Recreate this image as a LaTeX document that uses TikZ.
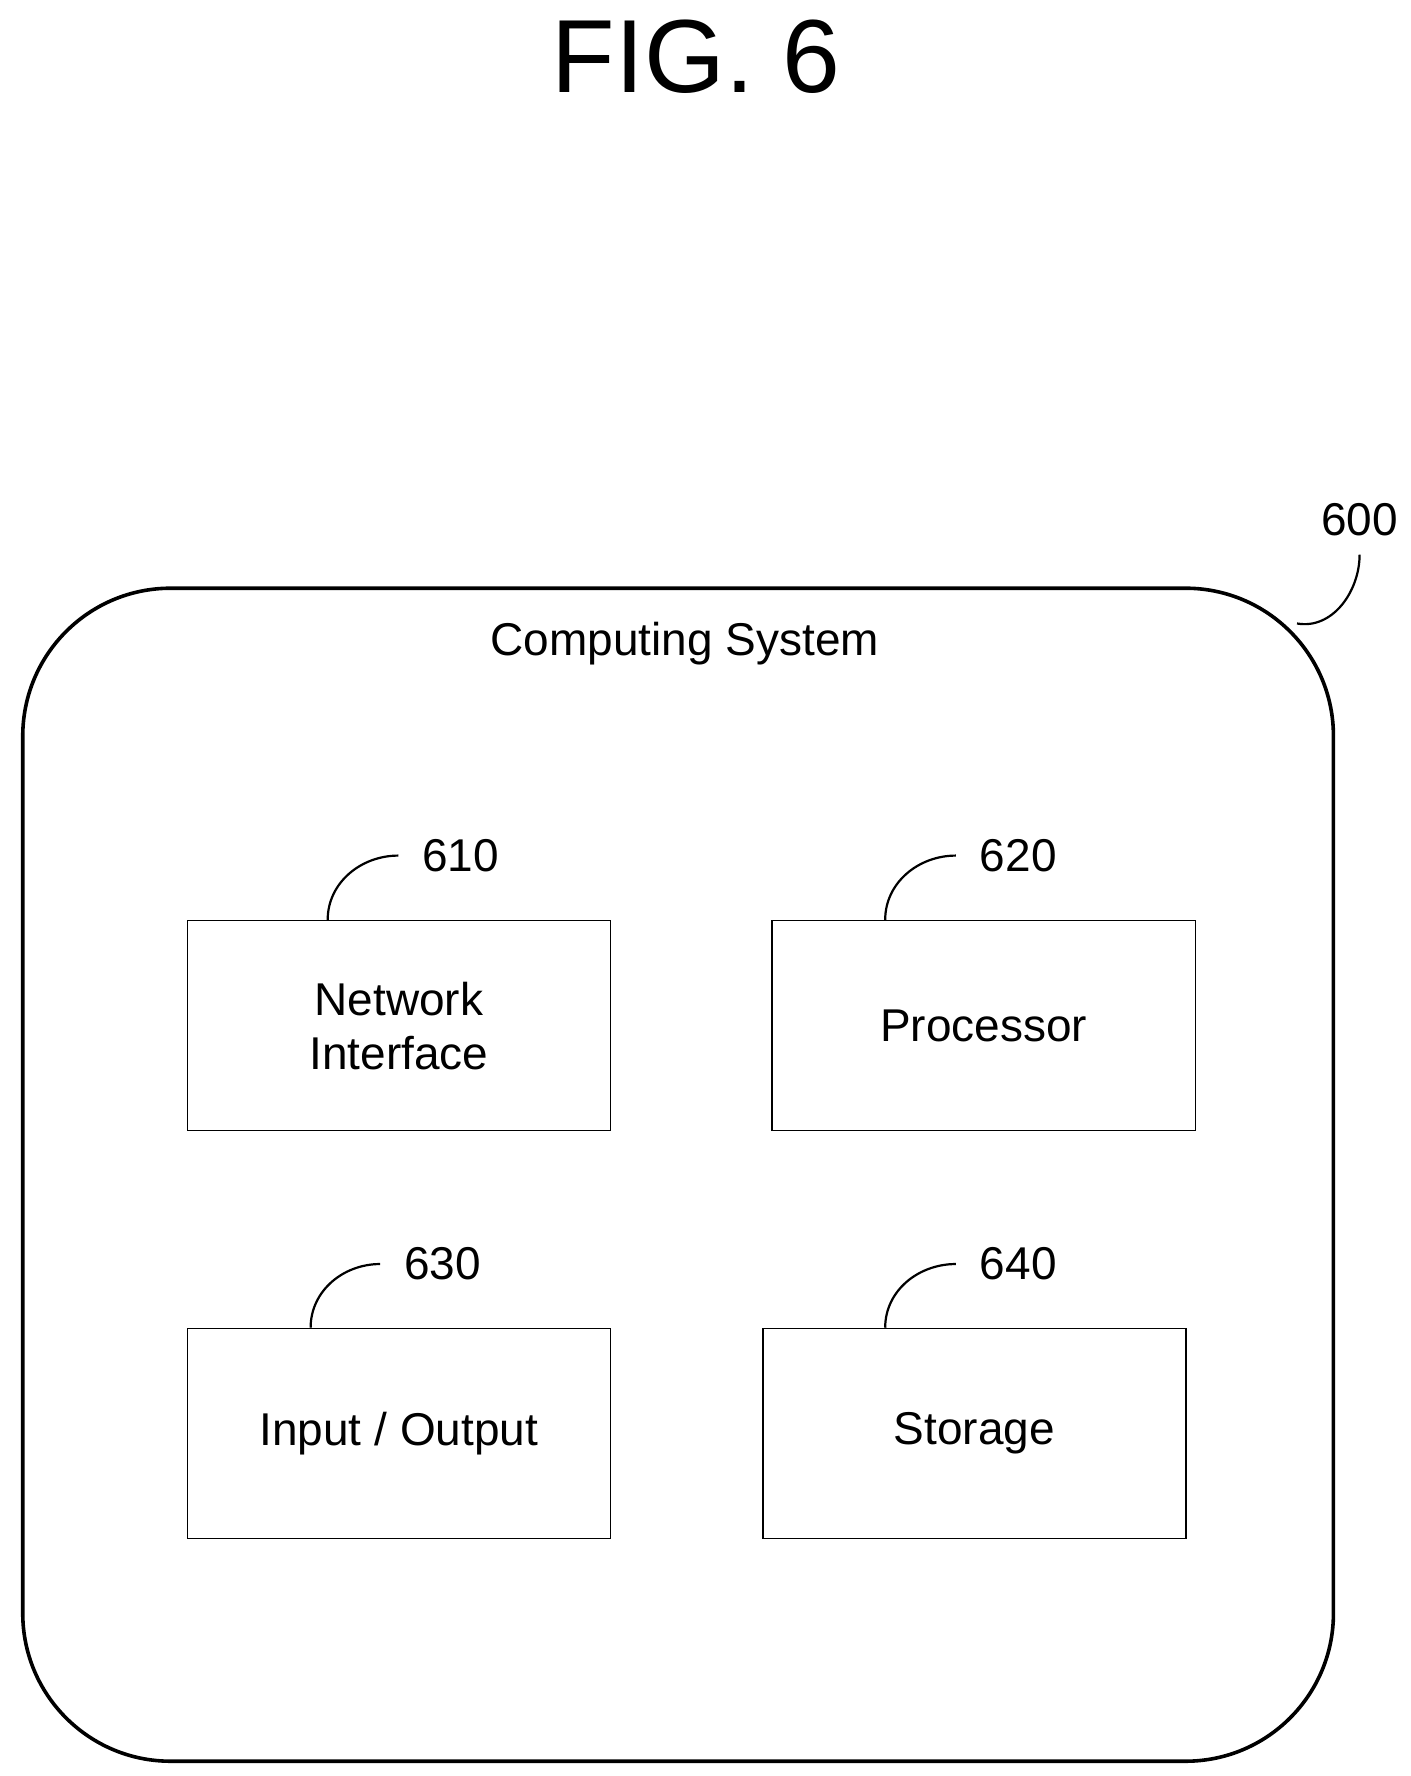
\documentclass[tikz,border=0pt]{standalone}
\usepackage{fontspec}
\setmainfont{Liberation Sans}
\usetikzlibrary{positioning}

\begin{document}
\begin{tikzpicture}[x=0.02cm, y=-0.02cm,
            part/.style={draw, rectangle, minimum width=7.44cm, minimum height=3.7cm, align=center, font=\fontsize{23}{27}\selectfont, line width=0.6pt},
            tag/.style={font=\fontsize{23}{27}\selectfont},
            lead/.style={line width=1.1pt}
        ]
    \useasboundingbox (0,0) rectangle (1240,1561);

    \node[font=\fontsize{52}{60}\selectfont] (fig) at (612,50) {FIG. 6};

    % computing system
    \draw[line width=1.8pt, rounded corners=2.6cm] (20,517) rectangle (1172,1548);
    \node[tag] (title) at (602,566) {Computing System};
    \coordinate (sysc) at (1140,548);
    \node[tag] (t600) at (1195,457) {600};
    \draw[lead] (sysc) to[out=-10,in=-90] ([yshift=-0.2cm]t600.south);

    \node[part] (net) at (350.5,901.5) {Network\\Interface};
    \node[part] (cpu) at (864.5,901.5) {Processor};
    \node[part] (io) at (350.5,1260) {Input / Output};
    \node[part] (sto) at (856.5,1260) {Storage};

    \node[tag] (t610) at (405,752) {610};
    \node[tag] (t620) at (895,752) {620};
    \node[tag] (t630) at (389,1111) {630};
    \node[tag] (t640) at (895,1111) {640};

    \draw[lead] ([xshift=-1.25cm]net.north) to[out=90,in=180] ([xshift=-0.3cm]t610.west);
    \draw[lead] ([xshift=-1.73cm]cpu.north) to[out=90,in=180] ([xshift=-0.3cm]t620.west);
    \draw[lead] ([xshift=-1.55cm]io.north) to[out=90,in=180] ([xshift=-0.3cm]t630.west);
    \draw[lead] ([xshift=-1.57cm]sto.north) to[out=90,in=180] ([xshift=-0.3cm]t640.west);

\end{tikzpicture}
\end{document}
